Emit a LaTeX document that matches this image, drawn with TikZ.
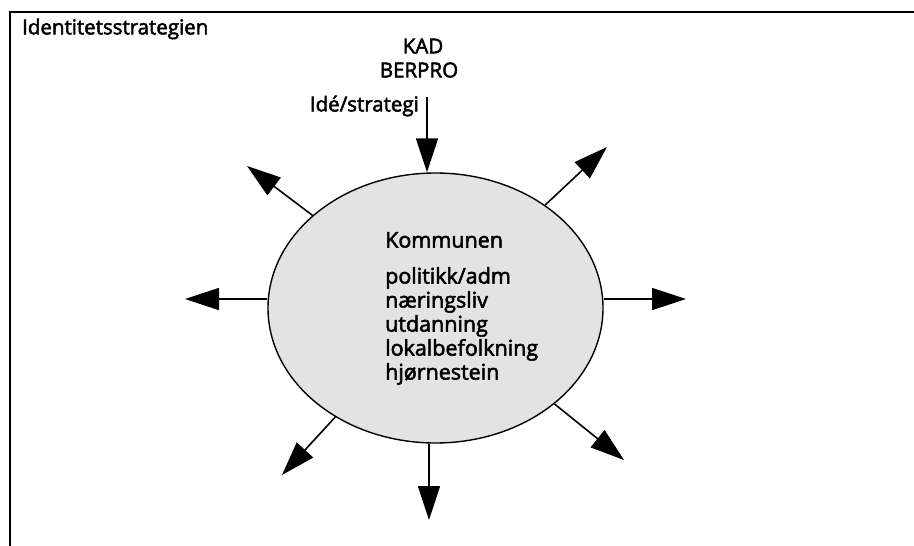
\documentclass[tikz,border=0pt]{standalone}
\usepackage{fontspec}
\newfontfamily\medfont{Open Sans}[FakeBold=2.5]
\usetikzlibrary{arrows.meta,shapes.geometric}

\tikzset{
  frameline/.style={line width=2.2pt},
  hub/.style={ellipse, draw, line width=1.4pt, fill=gray!22,
              minimum width=335pt, minimum height=270pt, inner sep=0pt},
  label/.style={font=\medfont\fontsize{20.5}{22}\selectfont, inner sep=0pt},
  outarrow/.style={line width=1.6pt,
                   -{Triangle[length=34pt,width=22pt]}},
}

\begin{document}
\begin{tikzpicture}[x=1pt,y=-1pt]
  % canvas
  \useasboundingbox (0,0) rectangle (914,546);
  \fill[white] (0,0) rectangle (914,546);

  % open frame: top rule and left rule
  \coordinate (fTL) at (10,12);
  \coordinate (fTR) at (914,12);
  \coordinate (fBL) at (10,546);
  \draw[frameline] (fTR) -- (fTL) -- (fBL);

  % title
  \node[label, anchor=west] (title) at (22,29) {Identitetsstrategien};

  % the municipality in the middle
  \node[hub] (k) at (435.5,308) {};
  \node[label, anchor=north west, align=left,
        font=\medfont\fontsize{21.5}{24}\selectfont] (inner) at (385,232)
    {Kommunen\\[12pt]politikk/adm\\næringsliv\\utdanning\\lokalbefolkning\\hjørnestein};

  % incoming idea from above
  \node[label] (kad) at (423,46) {KAD};
  \node[label] (berpro) at (419,70) {BERPRO};
  \node[label, anchor=east] (idea) at (419,106) {Idé/strategi};
  \coordinate (inStart) at (427,97);
  \draw[outarrow] (inStart) -- (k.north -| inStart);

  % outgoing arrows
  \coordinate (t1) at (247,166);
  \coordinate (t2) at (185,299);
  \coordinate (t3) at (607,147);
  \coordinate (t4) at (686,299);
  \coordinate (t5) at (282,475);
  \coordinate (t6) at (429,520);
  \coordinate (t7) at (624,460);

  \draw[outarrow] (k) -- (t1);
  \draw[outarrow] (k.west |- t2) -- (t2);
  \draw[outarrow] (k) -- (t3);
  \draw[outarrow] (k.east |- t4) -- (t4);
  \draw[outarrow] (k) -- (t5);
  \draw[outarrow] (k.south -| t6) -- (t6);
  \draw[outarrow] (k) -- (t7);
\end{tikzpicture}
\end{document}
